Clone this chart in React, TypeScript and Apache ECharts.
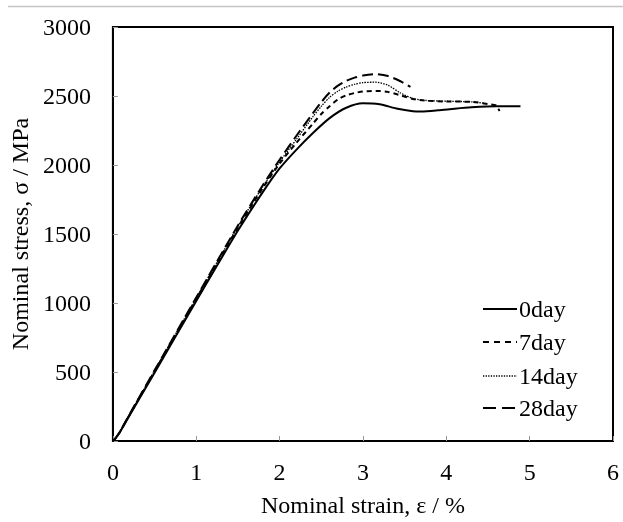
import React, { useEffect, useRef } from "react";
import * as echarts from "echarts";

const seriesNames = ["0day", "7day", "14day", "28day"];

const strain0 = [0, 0.03, 0.08, 0.2, 0.5, 1.0, 1.5, 1.8, 2.0, 2.2, 2.4, 2.6, 2.8, 3.0, 3.2, 3.4, 3.6, 3.7, 3.9, 4.1, 4.3, 4.6, 4.89];
const stress0 = [0, 18, 60, 185, 495, 1015, 1525, 1805, 1975, 2110, 2232, 2340, 2415, 2447, 2440, 2410, 2390, 2388, 2396, 2408, 2418, 2426, 2426];

const strain7 = [0, 0.03, 0.08, 0.2, 0.5, 1.0, 1.5, 1.8, 2.0, 2.2, 2.4, 2.5, 2.6, 2.7, 2.8, 2.9, 3.0, 3.15, 3.3, 3.45, 3.6, 3.75, 4.0, 4.3, 4.5, 4.6, 4.62, 4.64];
const stress7 = [0, 20, 62, 190, 505, 1030, 1545, 1835, 2010, 2160, 2300, 2370, 2425, 2475, 2505, 2522, 2532, 2537, 2530, 2505, 2478, 2466, 2460, 2458, 2442, 2432, 2412, 2392];

const strain14 = [0, 0.03, 0.08, 0.2, 0.5, 1.0, 1.5, 1.8, 2.0, 2.2, 2.4, 2.5, 2.6, 2.7, 2.8, 2.9, 3.0, 3.15, 3.3, 3.45, 3.6, 3.75, 4.0, 4.3, 4.45];
const stress14 = [0, 20, 63, 192, 510, 1035, 1555, 1845, 2022, 2185, 2350, 2425, 2490, 2535, 2565, 2585, 2597, 2600, 2578, 2522, 2482, 2468, 2462, 2458, 2448];

const strain28 = [0, 0.03, 0.08, 0.2, 0.5, 1.0, 1.5, 1.8, 2.0, 2.2, 2.4, 2.5, 2.6, 2.7, 2.8, 2.9, 3.0, 3.15, 3.3, 3.45, 3.57];
const stress28 = [0, 20, 64, 194, 512, 1040, 1562, 1855, 2038, 2210, 2375, 2455, 2525, 2575, 2610, 2633, 2648, 2658, 2645, 2607, 2566];

const FONT = "Liberation Serif";
const FS = 24;

function pairs(xs: number[], ys: number[]) {
  return xs.map((x, i) => [x, ys[i]]);
}

export default function App() {
  const ref = useRef<HTMLDivElement>(null);
  useEffect(() => {
    const chart = echarts.init(ref.current!, null, { renderer: "svg" });
    const lineStyles: any[] = [
      { color: "#000", width: 2, type: "solid" },
      { color: "#000", width: 2, type: [5, 4] },
      { color: "#000", width: 1.3, type: [1.5, 1.2] },
      { color: "#000", width: 2, type: [11, 5] },
    ];
    const legendDash: any[] = [null, [6, 5], [1.3, 1.3], [13, 6]];
    const datasets = [
      pairs(strain0, stress0),
      pairs(strain7, stress7),
      pairs(strain14, stress14),
      pairs(strain28, stress28),
    ];
    const legendRows = [309, 342, 376, 408];
    const legendGraphics: any[] = [];
    seriesNames.forEach((name, i) => {
      legendGraphics.push({
        type: "line",
        shape: { x1: 483, y1: legendRows[i], x2: 517, y2: legendRows[i] },
        style: { stroke: "#000", lineWidth: lineStyles[i].width, lineDash: legendDash[i] },
        silent: true,
      });
      legendGraphics.push({
        type: "text",
        x: 519,
        y: legendRows[i],
        style: {
          text: name,
          fill: "#000",
          font: `${FS}px ${FONT}`,
          verticalAlign: "middle",
          align: "left",
        },
        silent: true,
      });
    });
    chart.setOption({
      animation: false,
      textStyle: { fontFamily: FONT },
      grid: {
        left: 112,
        right: 10,
        top: 27,
        bottom: 74,
        show: true,
        borderColor: "#000",
        borderWidth: 2,
        backgroundColor: "transparent",
      },
      graphic: [
        {
          type: "line",
          shape: { x1: 8, y1: 6.5, x2: 623, y2: 6.5 },
          style: { stroke: "#c4c4c4", lineWidth: 1.5 },
          silent: true,
        },
        ...legendGraphics,
      ],
      xAxis: {
        type: "value",
        min: 0,
        max: 6,
        interval: 1,
        name: "Nominal strain, ε / %",
        nameLocation: "middle",
        nameGap: 52,
        nameTextStyle: { fontFamily: FONT, fontSize: FS, color: "#000" },
        axisLine: { show: true, lineStyle: { color: "#000", width: 2 } },
        axisTick: { show: true, inside: true, length: 5, lineStyle: { color: "#999", width: 1 } },
        axisLabel: { fontFamily: FONT, fontSize: FS, color: "#000", margin: 19 },
        splitLine: { show: false },
      },
      yAxis: {
        type: "value",
        min: 0,
        max: 3000,
        interval: 500,
        name: "Nominal stress, σ / MPa",
        nameLocation: "middle",
        nameGap: 78,
        nameRotate: 90,
        nameTextStyle: { fontFamily: FONT, fontSize: FS, color: "#000" },
        axisLine: { show: true, lineStyle: { color: "#000", width: 2 } },
        axisTick: { show: true, inside: true, length: 5, lineStyle: { color: "#999", width: 1 } },
        axisLabel: {
          fontFamily: FONT,
          fontSize: FS,
          color: "#000",
          margin: 22,
          formatter: (v: number) => String(v),
        },
        splitLine: { show: false },
      },
      series: seriesNames.map((name, i) => ({
        name,
        type: "line",
        data: datasets[i],
        symbol: "none",
        smooth: 0.25,
        lineStyle: lineStyles[i],
        itemStyle: { color: "#000" },
        z: 10 - i,
      })),
    });
    return () => chart.dispose();
  }, []);
  return (
    <div
      ref={ref}
      style={{ position: "fixed", left: 0, top: 0, width: 623, height: 522 }}
    />
  );
}
